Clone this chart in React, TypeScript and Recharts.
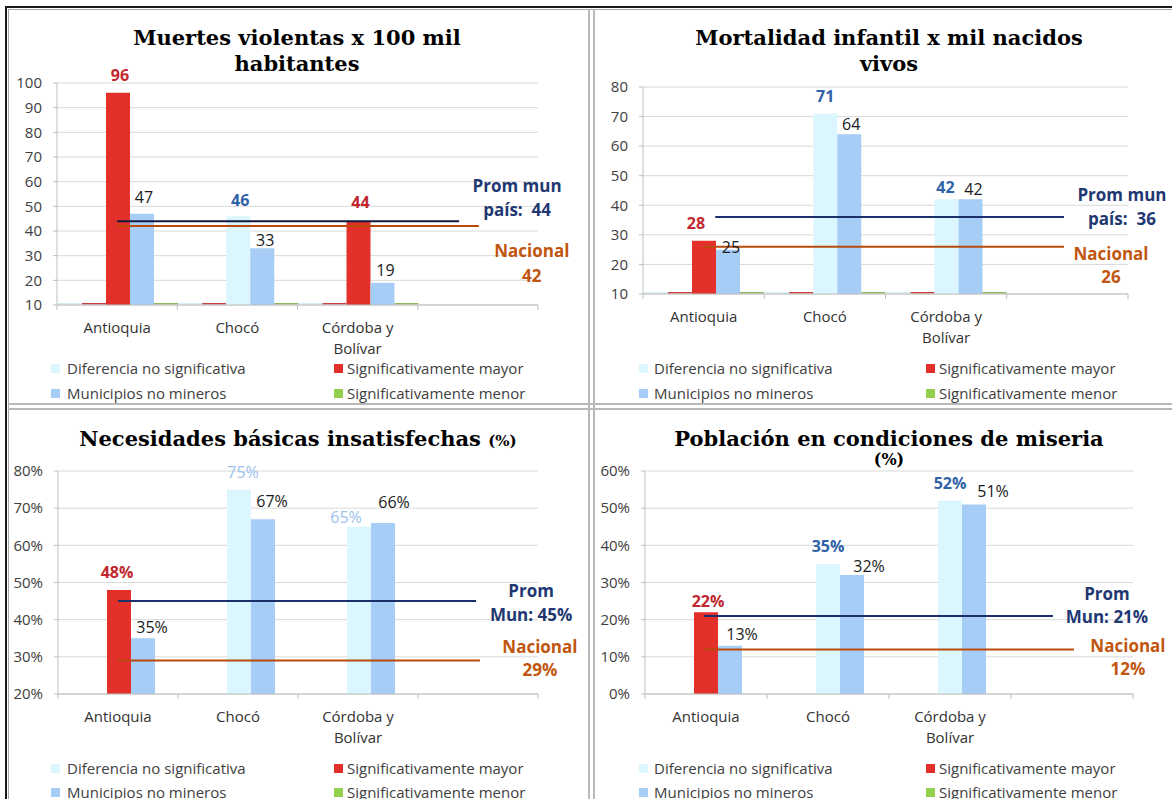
import { BarChart, Bar, XAxis, YAxis, CartesianGrid, ReferenceLine, LabelList, Cell } from 'recharts';

// shared categories and legend
const categories = ['Antioquia', 'Chocó', 'Córdoba y Bolívar', ''];
const legendLabels = ['Diferencia no significativa', 'Significativamente mayor', 'Municipios no mineros', 'Significativamente menor'];

// one entry per panel: violent deaths, infant mortality, NBI, misery
const titles = [['Muertes violentas x 100 mil', 'habitantes'], ['Mortalidad infantil x mil nacidos', 'vivos'], ['Necesidades básicas insatisfechas'], ['Población en condiciones de miseria']];
const titleUnits = ['', '', '(%)', '(%)'];
const mineros = [[96, 46, 44], [28, 71, 42], [48, 75, 65], [22, 35, 52]];
const significance = [['mayor', 'nosig', 'mayor'], ['mayor', 'nosig', 'nosig'], ['mayor', 'nosig', 'nosig'], ['mayor', 'nosig', 'nosig']];
const noMineros = [[47, 33, 19], [25, 64, 42], [35, 67, 66], [13, 32, 51]];
const promMun = [44, 36, 45, 21];
const nacional = [42, 26, 29, 12];
const promText = [['Prom mun', 'país:  '], ['Prom mun', 'país:  '], ['Prom', 'Mun: '], ['Prom', 'Mun: ']];
const yTicks = [
    [10, 20, 30, 40, 50, 60, 70, 80, 90, 100],
    [10, 20, 30, 40, 50, 60, 70, 80],
    [20, 30, 40, 50, 60, 70, 80],
    [0, 10, 20, 30, 40, 50, 60],
];
const units = ['', '', '%', '%'];

const COLORS = {
    nosig: '#dbf6fe',
    mayor: '#e4302b',
    noMineros: '#a6cdf6',
    menor: '#92d050',
    navy: '#1d2f6a',
    orange: '#b84a0c',
    navyText: '#1f3872',
    orangeText: '#c0560f',
};
const legendColors = [COLORS.nosig, COLORS.mayor, COLORS.noMineros, COLORS.menor];

const SANS = '"Open Sans", sans-serif';
const SERIF = '"DejaVu Serif", serif';

// the helper number axis spans the category indices 0..n-1 over the plot width
const REF_MAX = categories.length - 1;
const frac = (f: number) => f * REF_MAX;

// positions/styles per panel (label nudges follow the hand-placed labels of the original)
const layouts = [
    {
        left: 0, top: 0, margin: { top: 83, right: 44, bottom: 89, left: 12 },
        titleX: 297, titleY: [37, 63], legendY: [368, 393], legendX: [51, 334], textX: [67, 347],
        prom: [0.125, 0.836], nac: [0.125, 0.877], promDx: 58, promDy: [-36, -12], nacDx: 53, nacDy: [24, 49],
        baseline: true, navy: '#111a40', nosigLabel: '#2f62a8', nosigWeight: 700,
        mDx: [2, 2, 2], mDy: [18, 16, 19], nDx: [2, 3, 3], nDy: [17, 8, 13],
    },
    {
        left: 590, top: 0, margin: { top: 87, right: 44, bottom: 100, left: 8 },
        titleX: 889, titleY: [37, 63], legendY: [368, 393], legendX: [639, 926], textX: [654, 939],
        prom: [0.149, 0.868], nac: [0.124, 0.868], promDx: 58, promDy: [-23, 1], nacDx: 47, nacDy: [7, 30],
        baseline: true, navy: COLORS.navy, nosigLabel: '#2f62a8', nosigWeight: 700,
        mDx: [-8, 0, -1], mDy: [18, 18, 12], nDx: [3, 2, 3], nDy: [3, 10, 10],
    },
    {
        left: 0, top: 405, margin: { top: 66, right: 44, bottom: 105, left: 13 },
        titleX: 298, titleY: [438], legendY: [768, 792], legendX: [51, 334], textX: [67, 347],
        prom: [0.125, 0.871], nac: [0.125, 0.879], promDx: 55, promDy: [-11, 13], nacDx: 60, nacDy: [-14, 9],
        baseline: false, navy: COLORS.navy, nosigLabel: '#9cc3ee', nosigWeight: 400,
        mDx: [-2, 4, -13], mDy: [18, 18, 10], nDx: [9, 9, 11], nDy: [11, 18, 21],
    },
    {
        left: 590, top: 405, margin: { top: 66, right: 39, bottom: 105, left: 10 },
        titleX: 889, titleY: [438, 460], legendY: [768, 792], legendX: [639, 926], textX: [654, 939],
        prom: [0.121, 0.836], nac: [0.121, 0.879], promDx: 54, promDy: [-22, 1], nacDx: 54, nacDy: [-4, 19],
        baseline: false, navy: COLORS.navy, nosigLabel: '#2f62a8', nosigWeight: 700,
        mDx: [2, 0, 0], mDy: [11, 18, 18], nDx: [12, 17, 19], nDy: [12, 9, 13],
    },
];

const wrapLabel = (s: string, max = 10) => {
    const out: string[] = [];
    let cur = '';
    s.split(' ').forEach(w => {
        if (cur && (cur + ' ' + w).length > max) {
            out.push(cur);
            cur = w;
        } else {
            cur = cur ? cur + ' ' + w : w;
        }
    });
    if (cur) out.push(cur);
    return out;
};

// category label plus the Excel-style tick marks on the band edges
const CategoryTick = (props: any) => {
    const { x, y, payload, index, visibleTicksCount } = props;
    const lines = wrapLabel(String(payload.value || ''));
    const half = payload.offset;
    const isLast = visibleTicksCount != null ? index === visibleTicksCount - 1 : !payload.value;
    return (
        <g>
            {half != null && half > 0 && (
                <>
                    <line x1={x - half} x2={x - half} y1={y} y2={y + 5} stroke="#bfbfbf" />
                    {isLast && <line x1={x + half} x2={x + half} y1={y} y2={y + 5} stroke="#bfbfbf" />}
                </>
            )}
            <text x={x} y={y} textAnchor="middle" fontFamily={SANS} fontSize={15} fill="#333">
                {lines.map((l, i) => (
                    <tspan key={i} x={x} y={y + 22 + i * 20.5} dominantBaseline="central">{l}</tspan>
                ))}
            </text>
        </g>
    );
};

// zero-valued series show as a thin strip on the axis floor
const floorShape = (color: string, key: string, show: boolean) => (p: any) => {
    if (!show || !p.payload || p.payload[key] == null) return <g />;
    const bg = p.background;
    const base = bg ? bg.y + bg.height : p.y + p.height;
    return <rect x={p.x} y={base - 2} width={p.width} height={1.5} fill={color} />;
};

const refLabel = (lines: string[], color: string, dx: number, dys: number[]) => (props: any) => {
    const vb = props.viewBox || {};
    const xEnd = (vb.x || 0) + (vb.width || 0);
    return (
        <text textAnchor="middle" fontFamily={SANS} fontWeight={700} fontSize={17} fill={color} style={{ whiteSpace: 'pre' }}>
            {lines.map((l, i) => (
                <tspan key={i} x={xEnd + dx} y={(vb.y || 0) + dys[i]} dominantBaseline="central">{l}</tspan>
            ))}
        </text>
    );
};

const Panel = ({ k }: { k: number }) => {
    const L = layouts[k];
    const unit = units[k];
    const ticks = yTicks[k];
    const data = categories.map((c, i) => ({
        cat: c,
        dif: i < 3 ? 0 : null,
        mayor: i < 3 ? 0 : null,
        mineros: i < 3 ? mineros[k][i] : null,
        noMineros: i < 3 ? noMineros[k][i] : null,
        menor: i < 3 ? 0 : null,
    }));

    const minerosLabel = (p: any) => {
        const vb = p.viewBox || p;
        if (p.value == null) return null;
        const s = significance[k][p.index];
        const fill = s === 'mayor' ? '#c0282e' : L.nosigLabel;
        const weight = s === 'mayor' ? 700 : L.nosigWeight;
        return (
            <text x={vb.x + vb.width / 2 + L.mDx[p.index]} y={vb.y - L.mDy[p.index]} dominantBaseline="central"
                textAnchor="middle" fontFamily={SANS} fontSize={16} fontWeight={weight} fill={fill}>
                {p.value + unit}
            </text>
        );
    };
    const noMinerosLabel = (p: any) => {
        const vb = p.viewBox || p;
        if (p.value == null) return null;
        return (
            <text x={vb.x + vb.width / 2 + L.nDx[p.index]} y={vb.y - L.nDy[p.index]} dominantBaseline="central"
                textAnchor="middle" fontFamily={SANS} fontSize={16} fill="#1a1a1a">
                {p.value + unit}
            </text>
        );
    };

    return (
        <div style={{ position: 'absolute', left: L.left, top: L.top }}>
            <BarChart width={582} height={395} data={data} margin={L.margin} barCategoryGap={1} barGap={0}>
                <CartesianGrid horizontal vertical={false} stroke="#d9d9d9" />
                <XAxis xAxisId="ref" type="number" domain={[0, REF_MAX]} allowDataOverflow hide />
                <XAxis dataKey="cat" height={1} axisLine={{ stroke: '#bfbfbf' }} tickLine={false}
                    tickSize={0} tickMargin={0} interval={0} tick={<CategoryTick />} />
                <YAxis domain={[ticks[0], ticks[ticks.length - 1]]} ticks={ticks} allowDataOverflow width={45}
                    axisLine={{ stroke: '#bfbfbf' }} tickLine={{ stroke: '#bfbfbf' }} tickSize={4} tickMargin={11}
                    tick={{ fontFamily: SANS, fontSize: 15, fill: '#404040' }} tickFormatter={(v) => `${v}${unit}`} />
                <Bar dataKey="dif" isAnimationActive={false} shape={floorShape('#d4eef6', 'dif', L.baseline)} />
                <Bar dataKey="mayor" isAnimationActive={false} shape={floorShape('#c84040', 'mayor', L.baseline)} />
                <Bar dataKey="mineros" isAnimationActive={false}>
                    {data.map((_, i) => (
                        <Cell key={i} fill={i < 3 && significance[k][i] === 'mayor' ? COLORS.mayor : COLORS.nosig} />
                    ))}
                    <LabelList dataKey="mineros" content={minerosLabel} />
                </Bar>
                <Bar dataKey="noMineros" fill={COLORS.noMineros} isAnimationActive={false}>
                    <LabelList dataKey="noMineros" content={noMinerosLabel} />
                </Bar>
                <Bar dataKey="menor" isAnimationActive={false} shape={floorShape('#8fb85a', 'menor', L.baseline)} />
                <ReferenceLine xAxisId="ref" stroke={L.navy} strokeWidth={2}
                    segment={[{ x: frac(L.prom[0]), y: promMun[k] }, { x: frac(L.prom[1]), y: promMun[k] }]}
                    label={refLabel([promText[k][0], promText[k][1] + promMun[k] + unit], COLORS.navyText, L.promDx, L.promDy)} />
                <ReferenceLine xAxisId="ref" stroke={COLORS.orange} strokeWidth={2}
                    segment={[{ x: frac(L.nac[0]), y: nacional[k] }, { x: frac(L.nac[1]), y: nacional[k] }]}
                    label={refLabel(['Nacional', nacional[k] + unit], COLORS.orangeText, L.nacDx, L.nacDy)} />
            </BarChart>
        </div>
    );
};

const Title = ({ k }: { k: number }) => {
    const L = layouts[k];
    const lines = titles[k];
    const u = titleUnits[k];
    const base: React.CSSProperties = {
        position: 'absolute', transform: 'translate(-50%, -50%)', whiteSpace: 'nowrap',
        fontFamily: SERIF, fontWeight: 700, fontSize: 21, color: '#000', left: L.titleX, lineHeight: 1,
    };
    if (lines.length === 2) {
        return (
            <>
                <div style={{ ...base, top: L.titleY[0] }}>{lines[0]}</div>
                <div style={{ ...base, top: L.titleY[1] }}>{lines[1]}</div>
            </>
        );
    }
    if (L.titleY.length === 2) {
        return (
            <>
                <div style={{ ...base, top: L.titleY[0] }}>{lines[0]}</div>
                <div style={{ ...base, top: L.titleY[1], fontSize: 16 }}>{u}</div>
            </>
        );
    }
    return (
        <div style={{ ...base, top: L.titleY[0] }}>
            {lines[0]} <span style={{ fontSize: 15 }}>{u}</span>
        </div>
    );
};

const PanelLegend = ({ k }: { k: number }) => {
    const L = layouts[k];
    return (
        <>
            {legendLabels.map((label, i) => {
                const row = Math.floor(i / 2);
                const col = i % 2;
                const y = L.legendY[row];
                return (
                    <div key={label}>
                        <div style={{ position: 'absolute', left: L.legendX[col], top: y - 4.5, width: 9, height: 9, background: legendColors[i] }} />
                        <div style={{
                            position: 'absolute', left: L.textX[col], top: y, transform: 'translateY(-50%)',
                            fontFamily: SANS, fontSize: 15, color: '#404040', whiteSpace: 'nowrap', lineHeight: 1,
                        }}>{label}</div>
                    </div>
                );
            })}
        </>
    );
};

const line = (s: React.CSSProperties) => <div style={{ position: 'absolute', ...s }} />;

export default function App() {
    return (
        <div style={{ position: 'absolute', left: 0, top: 0, width: 1172, height: 799, overflow: 'hidden', background: '#fff' }}>
            {[0, 1, 2, 3].map(k => <Panel key={k} k={k} />)}
            {[0, 1, 2, 3].map(k => <Title key={k} k={k} />)}
            {[0, 1, 2, 3].map(k => <PanelLegend key={k} k={k} />)}
            {/* frame */}
            {line({ left: 5, top: 6, width: 1167, height: 2, background: '#1a1a1a' })}
            {line({ left: 5, top: 6, width: 2, height: 793, background: '#1a1a1a' })}
            {line({ left: 8, top: 9, width: 1164, height: 1, background: '#a8a8a8' })}
            {line({ left: 8, top: 9, width: 1, height: 790, background: '#a8a8a8' })}
            {line({ left: 8, top: 403, width: 1164, height: 2, background: '#b8b8b8' })}
            {line({ left: 8, top: 408, width: 1164, height: 2, background: '#b8b8b8' })}
            {line({ left: 588, top: 9, width: 2, height: 790, background: '#b8b8b8' })}
            {line({ left: 593, top: 9, width: 2, height: 790, background: '#b8b8b8' })}
        </div>
    );
}
